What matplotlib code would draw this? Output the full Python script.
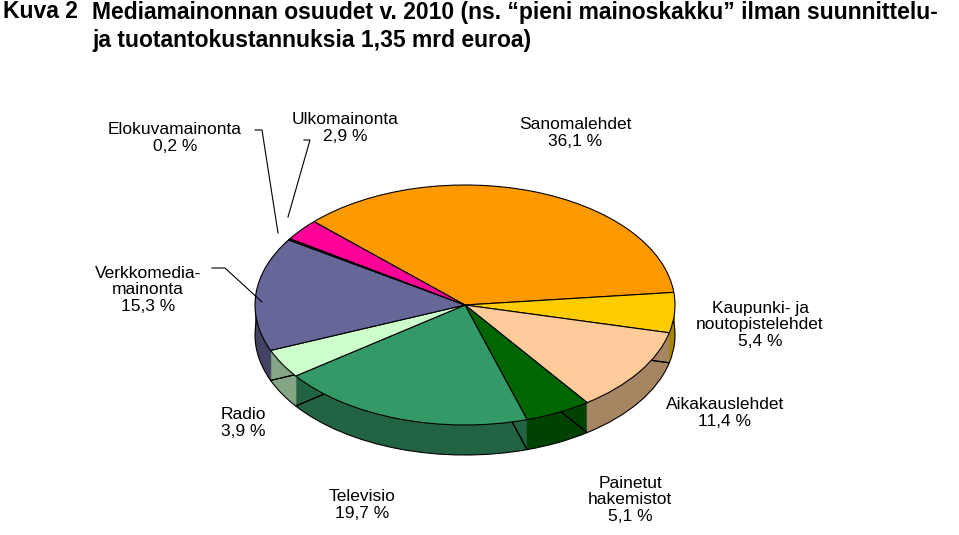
import matplotlib
matplotlib.use("Agg")
import matplotlib.pyplot as plt
import numpy as np
from matplotlib.colors import to_rgb

plt.rcParams['font.family'] = ['Liberation Sans', 'DejaVu Sans']

categories = ["Sanomalehdet", "Kaupunki- ja\nnoutopistelehdet", "Aikakauslehdet",
              "Painetut\nhakemistot", "Televisio", "Radio", "Verkkomedia-\nmainonta",
              "Elokuvamainonta", "Ulkomainonta"]
values = [36.1, 5.4, 11.4, 5.1, 19.7, 3.9, 15.3, 0.2, 2.9]
value_labels = ["36,1 %", "5,4 %", "11,4 %", "5,1 %", "19,7 %", "3,9 %", "15,3 %", "0,2 %", "2,9 %"]
colors = ["#FF9900", "#FFCC00", "#FFCC99", "#006600", "#339966", "#CCFFCC", "#666699", "#333333", "#FF0099"]

W, H = 959, 535
fig = plt.figure(figsize=(W/100, H/100), dpi=100)
ax = fig.add_axes([0, 0, 1, 1])
cx, cy = 465, 305
rx, ry = 210, 120
start = 136
depth = 30/ry
n = 30

def px(x, y):
    return ((x-cx)/rx, (cy-y)/ry)

for i in range(n, 0, -1):
    d = depth*i/n
    dark = [tuple(np.array(to_rgb(c))*0.65) for c in colors]
    ax.pie(values, colors=dark, startangle=start, counterclock=False,
           center=(0, -d), radius=1, frame=True, wedgeprops=dict(linewidth=0))
ax.pie(values, startangle=start, counterclock=False,
       center=(0, -depth), radius=1, frame=True,
       wedgeprops=dict(linewidth=0.8, edgecolor='black', fill=False))
ax.pie(values, colors=colors, startangle=start, counterclock=False,
       center=(0, 0), radius=1, frame=True,
       wedgeprops=dict(linewidth=0.8, edgecolor='black'))
ax.set_aspect('auto')
ax.set_xlim(-cx/rx, (W-cx)/rx)
ax.set_ylim(-(H-cy)/ry, cy/ry)
ax.axis('off')

label_pos = [(575, 133), (760, 325), (725, 413), (630, 500), (362, 505),
             (243, 423), (148, 290), (175, 138), (345, 128)]
for cat, vl, (x, y) in zip(categories, value_labels, label_pos):
    ax.text(*px(x, y), cat + "\n" + vl, ha='center', va='center', fontsize=12.5,
            linespacing=1.15)

lines = [((255, 130), (262, 130), (278, 233)),
         ((304, 140), (310, 140), (288, 217)),
         ((212, 268), (225, 268), (262, 302))]
for pts in lines:
    xs, ys = zip(*[px(*p) for p in pts])
    ax.plot(xs, ys, color='black', lw=0.8)

fs = 16.5
fig.text(3/W, 1-12/H, "Kuva 2", fontsize=fs, fontweight='bold', va='center')
fig.text(92/W, 1-12/H, "Mediamainonnan osuudet v. 2010 (ns. “pieni mainoskakku” ilman suunnittelu-",
         fontsize=fs, fontweight='bold', va='center')
fig.text(92/W, 1-40/H, "ja tuotantokustannuksia 1,35 mrd euroa)",
         fontsize=fs, fontweight='bold', va='center')

fig.savefig("out.png", dpi=100)
